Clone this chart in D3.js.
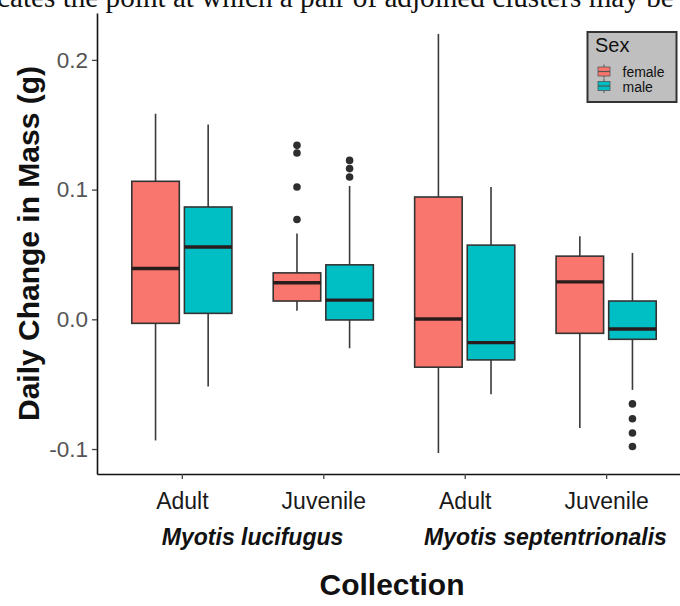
<!DOCTYPE html>
<html>
<head>
<meta charset="utf-8">
<script src="https://cdn.jsdelivr.net/npm/d3@7"></script>
<style>
  body { margin: 0; background: #fff; }
  svg { display: block; }
</style>
</head>
<body>
<svg id="chart" width="680" height="606"></svg>
<script>
// Collection groups (species x age class), in axis order
const groupKeys   = ["ML-Adult", "ML-Juvenile", "MS-Adult", "MS-Juvenile"];
const tickLabels  = ["Adult", "Juvenile", "Adult", "Juvenile"];
const speciesNames = ["Myotis lucifugus", "Myotis septentrionalis"];
const sexes = ["female", "male"];

// Box statistics per group, daily change in mass (g)
const femaleLow    = [-0.0934, 0.0066, -0.1031, -0.0838];
const femaleQ1     = [-0.0031, 0.0141, -0.0369, -0.0108];
const femaleMedian = [ 0.0392, 0.0282,  0.0002,  0.0289];
const femaleQ3     = [ 0.1064, 0.0358,  0.0943,  0.0487];
const femaleHigh   = [ 0.1585, 0.0662,  0.2200,  0.0641];
const femaleOutliers = [[], [0.1341, 0.1282, 0.1020, 0.0769], [], []];

const maleLow    = [-0.0518, -0.0223, -0.0577, -0.0544];
const maleQ1     = [ 0.0046, -0.0005, -0.0313, -0.0154];
const maleMedian = [ 0.0558,  0.0148, -0.0180, -0.0075];
const maleQ3     = [ 0.0866,  0.0420,  0.0572,  0.0141];
const maleHigh   = [ 0.1502,  0.1028,  0.1020,  0.0512];
const maleOutliers = [[], [0.1225, 0.1162, 0.1097], [], [-0.0652, -0.0767, -0.0877, -0.0980]];

const yTickValues = [-0.1, 0.0, 0.1, 0.2];
const yTickLabels = ["-0.1", "0.0", "0.1", "0.2"];

const fills = { female: "#F8766D", male: "#00BFC4" };

const boxes = [];
groupKeys.forEach((g, i) => {
  boxes.push({ group: g, sex: "female", low: femaleLow[i], q1: femaleQ1[i], med: femaleMedian[i],
               q3: femaleQ3[i], high: femaleHigh[i], out: femaleOutliers[i] });
  boxes.push({ group: g, sex: "male", low: maleLow[i], q1: maleQ1[i], med: maleMedian[i],
               q3: maleQ3[i], high: maleHigh[i], out: maleOutliers[i] });
});

const svg = d3.select("#chart");
const W = 680, H = 606;
const panel = { left: 97, right: 691, top: 13, bottom: 474 };

svg.append("rect").attr("width", W).attr("height", H).attr("fill", "#fff");

// Running text of the page above the figure
svg.append("text")
  .attr("x", -3).attr("y", 7)
  .attr("font-family", "Liberation Serif, Times New Roman, serif")
  .attr("font-size", 29.2)
  .attr("fill", "#111")
  .text("cates the point at which a pair of adjoined clusters may be");

// Scales
const x = d3.scalePoint().domain(groupKeys)
  .range([panel.left, panel.right]).padding(0.6);
const step = x.step();
const boxW = step * 0.336;
const dodge = { female: -step * 0.186, male: step * 0.186 };

const allVals = boxes.flatMap(b => [b.low, b.high, ...b.out]);
const vMin = d3.min(allVals), vMax = d3.max(allVals);
const pad = (vMax - vMin) * 0.05;
const y = d3.scaleLinear().domain([vMin - pad, vMax + pad])
  .range([panel.bottom, panel.top]);

// Boxplots
const g = svg.append("g");
const bx = g.selectAll("g.box").data(boxes).join("g")
  .attr("transform", d => `translate(${x(d.group) + dodge[d.sex]},0)`);

bx.append("line")
  .attr("x1", 0).attr("x2", 0)
  .attr("y1", d => y(d.high)).attr("y2", d => y(d.q3))
  .attr("stroke", "#3a3a3a").attr("stroke-width", 1.6);
bx.append("line")
  .attr("x1", 0).attr("x2", 0)
  .attr("y1", d => y(d.q1)).attr("y2", d => y(d.low))
  .attr("stroke", "#3a3a3a").attr("stroke-width", 1.6);
bx.append("rect")
  .attr("x", -boxW / 2).attr("width", boxW)
  .attr("y", d => y(d.q3)).attr("height", d => y(d.q1) - y(d.q3))
  .attr("fill", d => fills[d.sex])
  .attr("stroke", "#333").attr("stroke-width", 1.6);
bx.append("line")
  .attr("x1", -boxW / 2).attr("x2", boxW / 2)
  .attr("y1", d => y(d.med)).attr("y2", d => y(d.med))
  .attr("stroke", "#2a1c1c").attr("stroke-width", 3.4);
bx.selectAll("circle").data(d => d.out).join("circle")
  .attr("cx", 0).attr("cy", v => y(v)).attr("r", 3.8)
  .attr("fill", "#2e2e2e");

// Axes
const yAxis = d3.axisLeft(y).tickValues(yTickValues)
  .tickFormat((d, i) => yTickLabels[i]).tickSize(5).tickSizeOuter(0).tickPadding(4);
const ya = svg.append("g").attr("transform", `translate(${panel.left},0)`).call(yAxis);
ya.selectAll("text").attr("font-family", "Liberation Sans, Arial, sans-serif")
  .attr("font-size", 22.5).attr("fill", "#555");
ya.selectAll(".tick line").attr("stroke", "#444").attr("stroke-width", 1.3);
ya.select(".domain").attr("stroke", "#111").attr("stroke-width", 1.6);

const xAxis = d3.axisBottom(x).tickFormat((d, i) => tickLabels[i])
  .tickSize(5).tickSizeOuter(0).tickPadding(14);
const xa = svg.append("g").attr("transform", `translate(0,${panel.bottom})`).call(xAxis);
xa.selectAll("text").attr("font-family", "Liberation Sans, Arial, sans-serif")
  .attr("font-size", 23).attr("fill", "#1a1a1a");
xa.selectAll(".tick line").attr("stroke", "#444").attr("stroke-width", 1.3);
xa.select(".domain").attr("stroke", "#111").attr("stroke-width", 1.6);

// Species labels under the age classes
const speciesX = [
  (x(groupKeys[0]) + x(groupKeys[1])) / 2,
  (x(groupKeys[2]) + x(groupKeys[3])) / 2 + 10
];
svg.selectAll("text.species").data(speciesNames).join("text")
  .attr("class", "species")
  .attr("x", (d, i) => speciesX[i]).attr("y", 545)
  .attr("text-anchor", "middle")
  .attr("font-family", "Liberation Sans, Arial, sans-serif")
  .attr("font-size", 23).attr("font-weight", "bold").attr("font-style", "italic")
  .attr("fill", "#111")
  .text(d => d);

// Axis titles
svg.append("text")
  .attr("x", (panel.left + panel.right) / 2 - 2).attr("y", 595)
  .attr("text-anchor", "middle")
  .attr("font-family", "Liberation Sans, Arial, sans-serif")
  .attr("font-size", 30).attr("font-weight", "bold").attr("fill", "#111")
  .text("Collection");

svg.append("text")
  .attr("transform", `translate(39,${(panel.top + panel.bottom) / 2}) rotate(-90)`)
  .attr("text-anchor", "middle")
  .attr("font-family", "Liberation Sans, Arial, sans-serif")
  .attr("font-size", 30).attr("font-weight", "bold").attr("fill", "#111")
  .text("Daily Change in Mass (g)");

// Legend
const lg = svg.append("g");
lg.append("rect").attr("x", 587.5).attr("y", 32).attr("width", 89).attr("height", 70)
  .attr("fill", "#bfbfbf").attr("stroke", "#333").attr("stroke-width", 2);
lg.append("text").attr("x", 595).attr("y", 51.5)
  .attr("font-family", "Liberation Sans, Arial, sans-serif")
  .attr("font-size", 20).attr("fill", "#111").text("Sex");
const rowY = [71.5, 86];
const key = lg.selectAll("g.key").data(sexes).join("g")
  .attr("transform", (d, i) => `translate(604,${rowY[i]})`);
key.append("line").attr("x1", 0).attr("x2", 0).attr("y1", -7).attr("y2", 7)
  .attr("stroke", "#555").attr("stroke-width", 1);
key.append("rect").attr("x", -6).attr("y", -4.5).attr("width", 12).attr("height", 9)
  .attr("fill", d => fills[d]).attr("stroke", "#555").attr("stroke-width", 0.8);
key.append("line").attr("x1", -6).attr("x2", 6).attr("y1", 0).attr("y2", 0)
  .attr("stroke", "#555").attr("stroke-width", 1.2);
key.append("text").attr("x", 18.5).attr("y", 5.5)
  .attr("font-family", "Liberation Sans, Arial, sans-serif")
  .attr("font-size", 14).attr("fill", "#111").text(d => d);
</script>
</body>
</html>
